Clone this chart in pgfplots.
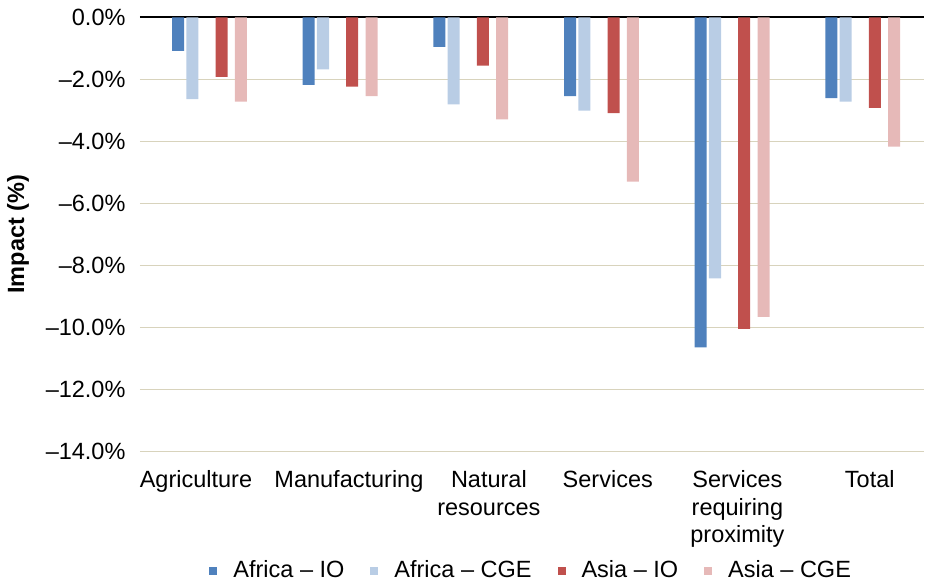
\documentclass[border=0pt]{standalone}
\usepackage{pgfplots}
\pgfplotsset{compat=1.18}
\usepackage{fontspec}
\setmainfont{Liberation Sans}
\definecolor{aio}{RGB}{79,129,189}
\definecolor{acge}{RGB}{185,205,229}
\definecolor{sio}{RGB}{192,80,77}
\definecolor{scge}{RGB}{230,185,184}
\definecolor{gridc}{RGB}{216,211,188}
\newcommand{\bigfont}{\fontsize{23.5}{27.8}\selectfont}
\begin{document}
\bigfont
\begin{tikzpicture}
\useasboundingbox (-140pt,-132.7pt) rectangle (789pt,451.3pt);
\begin{axis}[
  at={(0pt,0pt)}, anchor=south west,
  scale only axis, width=784pt, height=434pt,
  ybar, bar width=0.092,
  xmin=-0.5, xmax=5.5, ymin=-14, ymax=0,
  enlarge x limits=false, enlarge y limits=false,
  axis line style={draw=none},
  major tick length=0pt,
  ytick={-14,-12,-10,-8,-6,-4,-2,0},
  yticklabels={–14.0\%,–12.0\%,–10.0\%,–8.0\%,–6.0\%,–4.0\%,–2.0\%,0.0\%},
  ymajorgrids, grid style={gridc, line width=1.5pt},
  extra y ticks={0}, extra y tick labels={},
  extra y tick style={grid style={black, line width=2pt}},
  xtick={-0.072,1.099,2.170,3.080,4.072,5.085},
  xticklabels={Agriculture,Manufacturing,{Natural\\resources},Services,{Services\\requiring\\proximity},Total},
  tick label style={font=\bigfont},
  xticklabel style={align=center, anchor=north, yshift=-11pt},
  yticklabel style={xshift=-6.5pt},
  ylabel={\textbf{Impact (\%)}},
  every axis y label/.style={at={(axis description cs:-0.1556,0.5)}, rotate=90, anchor=center, font=\bigfont},
  legend columns=4,
  legend style={draw=none, fill=none, at={(0.499,-0.276)}, anchor=center, font=\bigfont,
    /tikz/every odd column/.append style={column sep=14pt},
    /tikz/every even column/.append style={column sep=24pt}},
  legend image code/.code={\fill[#1] (0pt,-4pt) rectangle (8pt,4pt);},
]
\addplot[fill=aio, draw=none, bar shift=-0.209] coordinates {(0,-1.08) (1,-2.18) (2,-0.95) (3,-2.54) (4,-10.65) (5,-2.61)};
\addplot[fill=acge, draw=none, bar shift=-0.0995] coordinates {(0,-2.64) (1,-1.68) (2,-2.81) (3,-3.01) (4,-8.42) (5,-2.72)};
\addplot[fill=sio, draw=none, bar shift=0.124] coordinates {(0,-1.92) (1,-2.24) (2,-1.56) (3,-3.09) (4,-10.05) (5,-2.92)};
\addplot[fill=scge, draw=none, bar shift=0.272] coordinates {(0,-2.72) (1,-2.54) (2,-3.29) (3,-5.30) (4,-9.66) (5,-4.17)};
\legend{Africa – IO, Africa – CGE, Asia – IO, Asia – CGE}
\end{axis}
\end{tikzpicture}
\end{document}
